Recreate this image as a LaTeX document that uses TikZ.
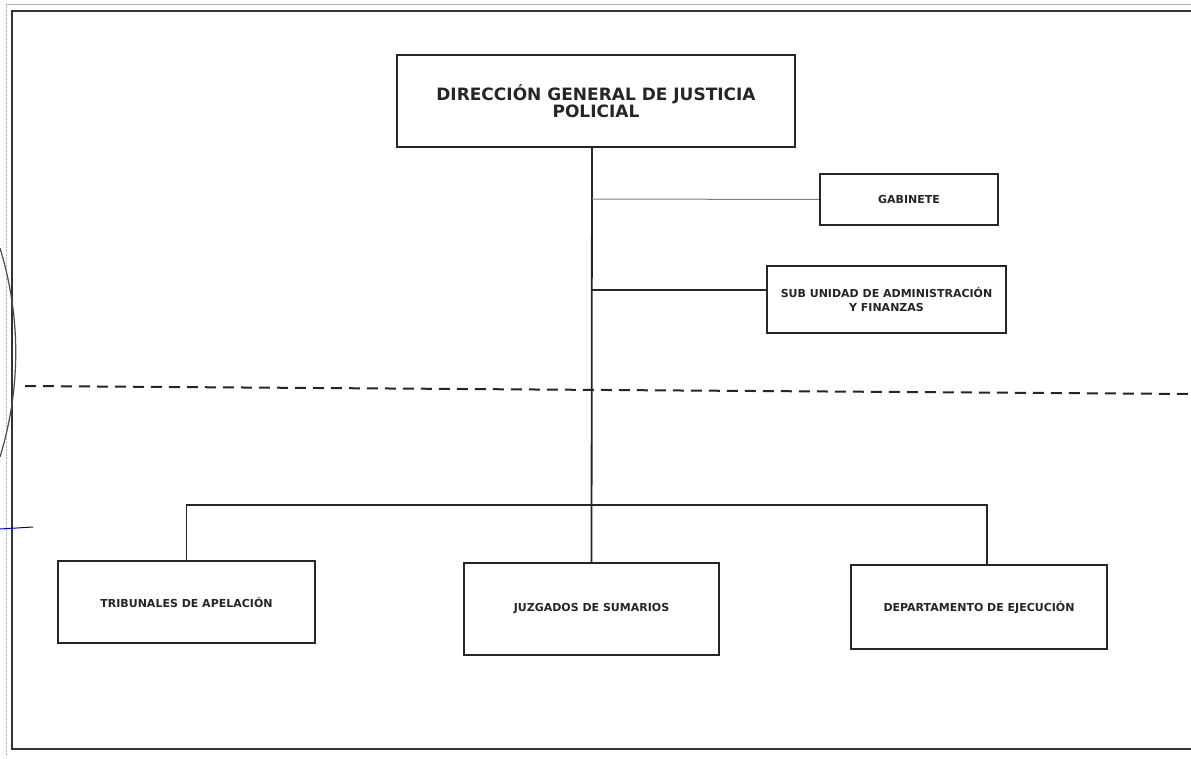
\documentclass[tikz,border=0pt]{standalone}
\usepackage{fontspec}
\setmainfont{DejaVu Sans}
\begin{document}
\begin{tikzpicture}[x=1pt,y=-1pt,
  box/.style={draw=black!85, line width=2.2pt, fill=white, inner sep=0pt, align=center,
              font=\bfseries\fontsize{11}{14}\selectfont, text=black!85},
  link/.style={draw=black!85, line width=1.8pt},
  thinlink/.style={draw=black!50, line width=1pt},
  framelines/.style={draw=black!80, line width=2.2pt}]
\useasboundingbox (0,0) rectangle (1191,759);
\fill[white] (0,0) rectangle (1191,759);
% scan frame
\draw[framelines] (1191,11) -- (12,11) -- (12,749) -- (1191,749);
\draw[black!30, line width=0.6pt, densely dotted] (6,4) -- (6,755);
\draw[black!30, line width=0.6pt] (6,4) -- (1191,4);
% boxes
\node[box, minimum width=398, minimum height=92, font=\bfseries\fontsize{17}{16}\selectfont] (dg) at (596,101) {DIRECCIÓN GENERAL DE JUSTICIA\\POLICIAL};
\node[box, minimum width=178, minimum height=51] (gab) at (909,199.5) {GABINETE};
\node[box, minimum width=239, minimum height=67] (sub) at (886.5,299.5) {SUB UNIDAD DE ADMINISTRACIÓN\\Y FINANZAS};
\node[box, minimum width=257, minimum height=82] (trib) at (186.5,602) {TRIBUNALES DE APELACIÓN};
\node[box, minimum width=255, minimum height=92] (juz) at (591.5,609) {JUZGADOS DE SUMARIOS};
\node[box, minimum width=256, minimum height=84] (dep) at (979,607) {DEPARTAMENTO DE EJECUCIÓN};
% connector coordinates
\coordinate (trunkTop) at (592,147);
\coordinate (subJ) at (592,290);
\coordinate (subE) at (767,290);
\coordinate (gabJ) at (592,199);
\coordinate (bus) at (592,505);
\coordinate (depTop) at (987,565);
% connectors
\draw[link] (trunkTop) -- (juz.north);
\draw[thinlink] (gabJ) -- (gab.west);
\draw[link] (subJ) -- (subE);
\draw[link] (trib.north) |- (bus) -| (depTop);
% dashed level line
\coordinate (dashL) at (25,386);
\coordinate (dashR) at (1191,394);
\draw[black!85, line width=2pt, dash pattern=on 11pt off 7pt] (dashL) -- (dashR);
% stamp arc and pen mark from the scan
\draw[black!70, line width=1.2pt] (0,248) .. controls (21,317) and (21,388) .. (0,457);
\draw[blue!70!black, line width=1pt] (0,529) -- (33,527);
\end{tikzpicture}
\end{document}
